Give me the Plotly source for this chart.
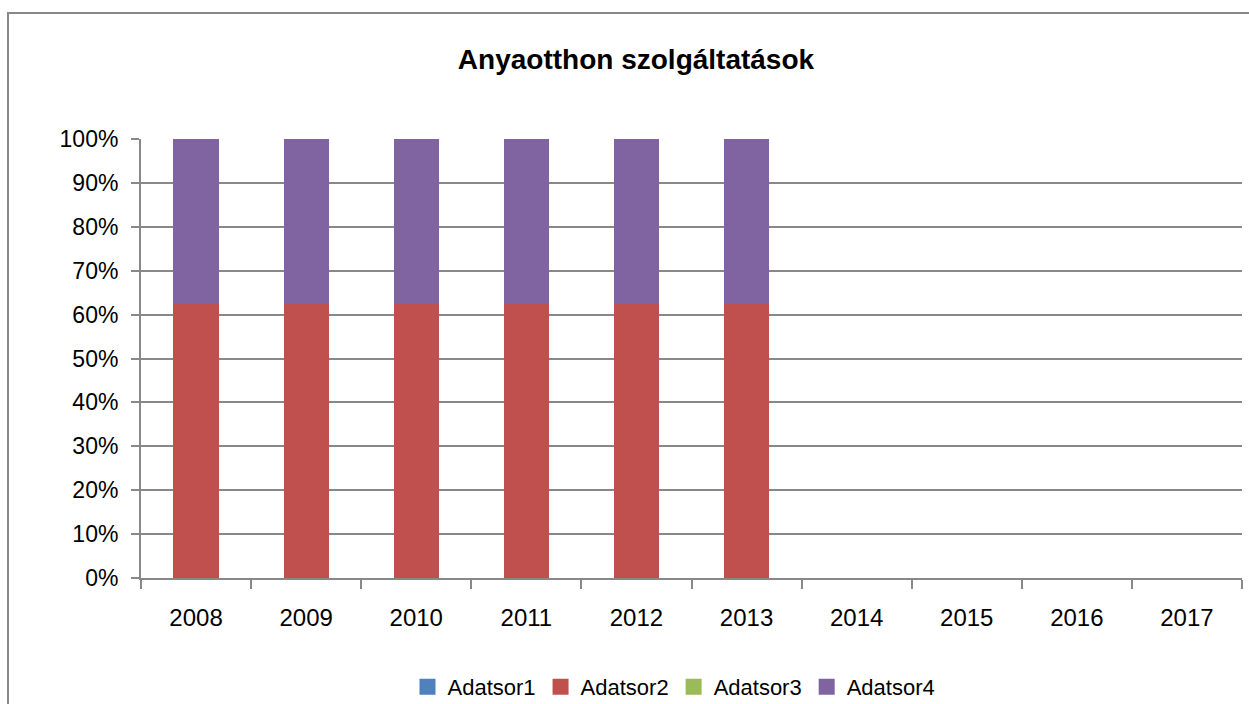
import plotly.graph_objects as go

years = ["2008", "2009", "2010", "2011", "2012", "2013", "2014", "2015", "2016", "2017"]
adatsor1 = [0, 0, 0, 0, 0, 0, None, None, None, None]
adatsor2 = [62.5, 62.5, 62.5, 62.5, 62.5, 62.5, None, None, None, None]
adatsor3 = [0, 0, 0, 0, 0, 0, None, None, None, None]
adatsor4 = [37.5, 37.5, 37.5, 37.5, 37.5, 37.5, None, None, None, None]
tick_vals = [0, 10, 20, 30, 40, 50, 60, 70, 80, 90, 100]
tick_text = ["0%", "10%", "20%", "30%", "40%", "50%", "60%", "70%", "80%", "90%", "100%"]

series = [
    ("Adatsor1", adatsor1, "#4F81BD"),
    ("Adatsor2", adatsor2, "#C0504D"),
    ("Adatsor3", adatsor3, "#9BBB59"),
    ("Adatsor4", adatsor4, "#8064A2"),
]

fig = go.Figure()
for name, vals, color in series:
    fig.add_trace(go.Bar(x=years, y=vals, name=name, marker_color=color,
                         marker_line_width=0, showlegend=False, legendgroup=name))
# legend entries (square swatches)
for name, vals, color in series:
    fig.add_trace(go.Scatter(x=[None], y=[None], mode="markers", name=name,
                             legendgroup=name,
                             marker=dict(symbol="square", size=16, color=color)))

FONT = "Liberation Sans"
fig.update_layout(
    width=1249, height=704,
    barmode="stack",
    bargap=0.59,
    paper_bgcolor="white", plot_bgcolor="white",
    margin=dict(l=141, r=7, t=139, b=126, autoexpand=False),
    font=dict(family=FONT, size=22, color="black"),
    title=dict(text="<b>Anyaotthon szolgáltatások</b>", x=636 / 1249, xanchor="center",
               y=1 - 59 / 704, yanchor="middle", font=dict(size=28, family=FONT)),
    showlegend=True,
    legend=dict(orientation="h", x=(674 - 141) / 1101, xanchor="center",
                y=(578 - 687) / 439, yanchor="middle",
                font=dict(size=22), itemwidth=30, itemsizing="trace",
                traceorder="normal"),
    xaxis=dict(type="category", showgrid=False, showline=True, linecolor="#888888",
               linewidth=2, ticks="outside", tickson="boundaries", ticklen=9,
               tickcolor="#888888", tickwidth=2, tickfont=dict(size=24),
               ticklabelstandoff=17),
    yaxis=dict(range=[0, 100], tickmode="array", tickvals=tick_vals, ticktext=tick_text,
               showgrid=True, gridcolor="#888888", gridwidth=1.5, showline=True,
               linecolor="#888888", linewidth=2, ticks="outside", ticklen=8,
               tickcolor="#888888", tickwidth=2, tickfont=dict(size=23),
               ticklabelstandoff=8, zeroline=False),
    shapes=[dict(type="rect", xref="paper", yref="paper",
                 x0=(8 - 141) / 1101, x1=1.05, y0=-1, y1=(578 - 13) / 439,
                 line=dict(color="#888888", width=2), fillcolor="rgba(0,0,0,0)", layer="below")],
)

fig.write_html("out.html", post_script="document.body.style.margin='0';",
               config={"displayModeBar": False})
